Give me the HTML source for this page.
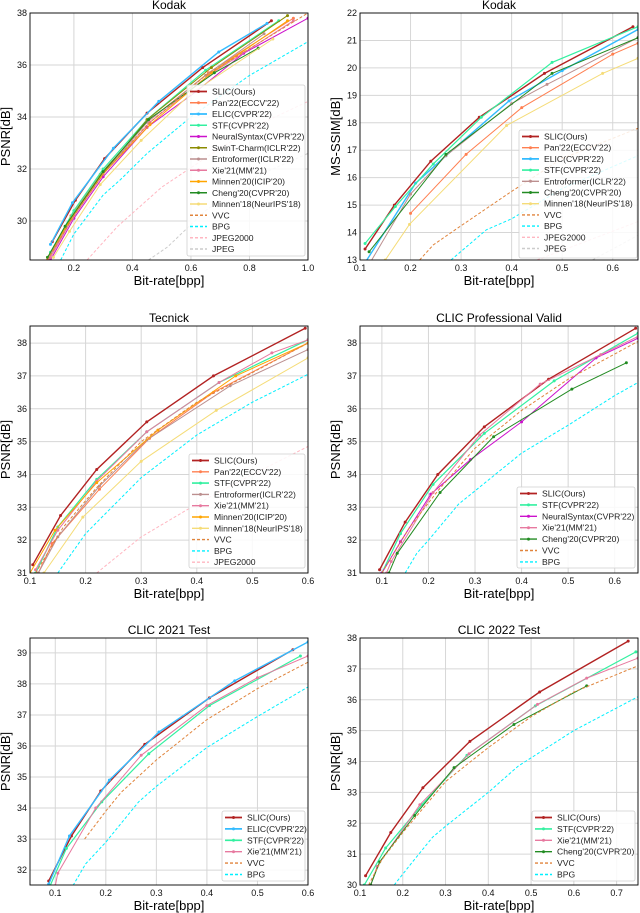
<!DOCTYPE html>
<html><head><meta charset="utf-8">
<style>
html,body{margin:0;padding:0;background:#fff;}
svg{display:block;font-family:"Liberation Sans","DejaVu Sans",sans-serif;}
</style></head>
<body>
<svg id="fig" width="640" height="913" viewBox="0 0 640 913" xmlns="http://www.w3.org/2000/svg"></svg>
<script>
// ---------- Kodak PSNR ----------
const kodakPsnr_SLIC=[[0.126,29.2],[0.205,30.8],[0.305,32.4],[0.45,34.15],[0.64,35.9],[0.875,37.7]];
const kodakPsnr_Pan=[[0.11,28.5],[0.19,30.2],[0.29,31.8],[0.45,33.8],[0.66,35.7],[0.95,37.8]];
const kodakPsnr_ELIC=[[0.12,29.1],[0.195,30.7],[0.335,32.8],[0.49,34.6],[0.695,36.5],[0.86,37.6]];
const kodakPsnr_STF=[[0.12,28.8],[0.2,30.4],[0.3,32.0],[0.45,33.9],[0.65,35.8],[0.9,37.7]];
const kodakPsnr_NS=[[0.12,28.5],[0.2,30.1],[0.3,31.7],[0.45,33.6],[0.62,35.0],[0.78,36.45],[1.0,37.8]];
const kodakPsnr_Swin=[[0.11,28.6],[0.18,29.9],[0.29,31.7],[0.45,33.9],[0.67,35.9],[0.93,37.9]];
const kodakPsnr_Entro=[[0.115,28.6],[0.195,30.1],[0.3,31.8],[0.45,33.8],[0.65,35.6],[0.85,37.2]];
const kodakPsnr_Xie=[[0.12,28.6],[0.2,30.2],[0.3,31.8],[0.46,33.8],[0.66,35.6],[0.95,37.7]];
const kodakPsnr_M20=[[0.11,28.6],[0.19,30.1],[0.29,31.7],[0.46,33.7],[0.67,35.7],[0.93,37.7]];
const kodakPsnr_Cheng=[[0.11,28.6],[0.17,29.8],[0.3,31.9],[0.455,33.9],[0.68,35.7],[0.83,36.65]];
const kodakPsnr_M18=[[0.13,28.6],[0.185,29.6],[0.29,31.4],[0.43,33.1],[0.6,34.9],[0.88,37.0]];
const kodakPsnr_VVC=[[0.11,28.5],[0.2,30.2],[0.3,31.8],[0.45,33.7],[0.65,35.6],[1.0,38.0]];
const kodakPsnr_BPG=[[0.155,28.5],[0.2,29.5],[0.3,31.0],[0.36,31.6],[0.45,32.6],[0.6,34.0],[0.8,35.6],[1.0,36.9]];
const kodakPsnr_J2K=[[0.245,28.5],[0.35,29.8],[0.5,31.3],[0.7,32.8],[0.85,33.8],[1.0,34.6]];
const kodakPsnr_JPEG=[[0.455,28.5],[0.52,29.0],[0.65,30.4],[0.8,31.6],[1.0,32.6]];
// ---------- Kodak MS-SSIM ----------
const kodakSsim_SLIC=[[0.11,13.4],[0.168,15.0],[0.24,16.6],[0.336,18.2],[0.465,19.8],[0.64,21.5]];
const kodakSsim_Pan=[[0.2,14.7],[0.31,16.85],[0.42,18.55],[0.6,20.5],[0.65,20.9]];
const kodakSsim_ELIC=[[0.11,12.9],[0.21,15.8],[0.27,16.8],[0.395,18.8],[0.5,19.9],[0.65,21.4]];
const kodakSsim_STF=[[0.11,13.6],[0.17,14.95],[0.245,16.5],[0.34,18.2],[0.48,20.2],[0.65,21.5]];
const kodakSsim_Entro=[[0.12,12.9],[0.2,15.4],[0.27,16.8],[0.4,18.7],[0.47,19.4],[0.65,21.1]];
const kodakSsim_Cheng=[[0.118,13.3],[0.27,16.85],[0.48,19.8],[0.65,21.1]];
const kodakSsim_M18=[[0.15,13.0],[0.198,14.3],[0.39,17.9],[0.58,19.8],[0.65,20.35]];
const kodakSsim_VVC=[[0.218,13.0],[0.245,13.55],[0.3,14.25],[0.4,15.5],[0.5,16.7],[0.65,17.8]];
const kodakSsim_BPG=[[0.28,13.0],[0.35,14.1],[0.4,14.5],[0.5,15.6],[0.65,16.8]];
const kodakSsim_J2K=[[0.45,13.0],[0.55,13.7],[0.65,14.4]];
const kodakSsim_JPEG=[[0.56,13.0],[0.65,13.9]];
// ---------- Tecnick ----------
const tec_SLIC=[[0.105,31.25],[0.155,32.75],[0.22,34.15],[0.31,35.6],[0.43,37.0],[0.595,38.45]];
const tec_Pan=[[0.115,31.0],[0.14,31.9],[0.225,33.55],[0.315,35.1],[0.43,36.5],[0.6,38.0]];
const tec_STF=[[0.11,31.0],[0.15,32.4],[0.22,33.85],[0.31,35.3],[0.44,36.8],[0.6,38.1]];
const tec_Entro=[[0.115,31.0],[0.15,32.1],[0.225,33.65],[0.31,35.05],[0.46,36.7],[0.6,37.8]];
const tec_Xie=[[0.11,31.1],[0.15,32.3],[0.22,33.8],[0.31,35.3],[0.44,36.8],[0.535,37.7],[0.6,38.1]];
const tec_M20=[[0.1,31.0],[0.145,32.3],[0.22,33.75],[0.33,35.35],[0.47,37.0],[0.6,38.0]];
const tec_M18=[[0.125,31.0],[0.195,32.7],[0.3,34.4],[0.435,35.95],[0.6,37.55]];
const tec_VVC=[[0.11,31.0],[0.16,32.4],[0.22,33.6],[0.3,35.0],[0.4,36.2],[0.5,37.1],[0.6,38.0]];
const tec_BPG=[[0.15,31.0],[0.2,32.2],[0.3,33.9],[0.4,35.2],[0.5,36.2],[0.6,37.05]];
const tec_J2K=[[0.22,31.0],[0.3,32.1],[0.4,33.1],[0.5,34.0],[0.6,34.85]];
// ---------- CLIC Professional Valid ----------
const pro_SLIC=[[0.095,31.1],[0.15,32.55],[0.22,34.0],[0.32,35.45],[0.458,36.9],[0.645,38.45]];
const pro_STF=[[0.1,31.0],[0.14,32.2],[0.21,33.7],[0.32,35.25],[0.47,36.85],[0.65,38.3]];
const pro_NS=[[0.1,31.0],[0.14,31.95],[0.205,33.4],[0.29,34.45],[0.4,35.6],[0.56,37.55],[0.65,38.15]];
const pro_Xie=[[0.11,31.0],[0.12,31.35],[0.21,33.45],[0.31,35.2],[0.44,36.75],[0.57,37.65],[0.65,38.2]];
const pro_Cheng=[[0.115,31.0],[0.133,31.6],[0.225,33.45],[0.34,35.15],[0.508,36.6],[0.625,37.4]];
const pro_VVC=[[0.1,31.0],[0.16,32.4],[0.22,33.5],[0.3,34.8],[0.4,35.95],[0.5,36.9],[0.65,38.05]];
const pro_BPG=[[0.15,31.0],[0.175,31.6],[0.2,32.0],[0.265,33.1],[0.3,33.5],[0.4,34.65],[0.5,35.5],[0.6,36.4],[0.65,36.8]];
// ---------- CLIC 2021 ----------
const c21_SLIC=[[0.087,31.65],[0.132,33.1],[0.19,34.55],[0.277,36.05],[0.405,37.55],[0.57,39.1]];
const c21_ELIC=[[0.087,31.55],[0.128,33.1],[0.207,34.9],[0.305,36.45],[0.455,38.1],[0.6,39.35]];
const c21_STF=[[0.09,31.5],[0.122,32.7],[0.192,34.2],[0.285,35.75],[0.405,37.3],[0.585,38.9]];
const c21_Xie=[[0.1,31.5],[0.105,31.9],[0.18,34.0],[0.27,35.7],[0.4,37.3],[0.5,38.2],[0.6,38.9]];
const c21_VVC=[[0.158,33.0],[0.2,33.9],[0.23,34.5],[0.3,35.55],[0.4,36.85],[0.5,37.85],[0.6,38.7]];
const c21_BPG=[[0.135,31.5],[0.16,32.2],[0.2,32.9],[0.265,34.2],[0.3,34.7],[0.4,35.95],[0.46,36.55],[0.5,36.95],[0.6,37.9]];
// ---------- CLIC 2022 ----------
const c22_SLIC=[[0.113,30.3],[0.172,31.7],[0.247,33.15],[0.357,34.65],[0.52,36.25],[0.727,37.9]];
const c22_STF=[[0.11,30.0],[0.16,31.2],[0.245,32.6],[0.35,34.2],[0.51,35.8],[0.745,37.55]];
const c22_Xie=[[0.125,30.0],[0.14,30.6],[0.24,32.6],[0.355,34.25],[0.515,35.85],[0.63,36.7],[0.75,37.35]];
const c22_Cheng=[[0.125,30.0],[0.146,30.75],[0.228,32.25],[0.32,33.8],[0.46,35.2],[0.63,36.45]];
const c22_VVC=[[0.12,30.0],[0.15,30.8],[0.2,31.7],[0.3,33.35],[0.4,34.45],[0.5,35.45],[0.6,36.25],[0.75,37.1]];
const c22_BPG=[[0.18,30.0],[0.22,30.7],[0.27,31.55],[0.3,31.9],[0.4,33.0],[0.47,33.85],[0.6,35.0],[0.75,36.1]];
// tick labels
const ticksX_kodakPsnr=[0.2,0.4,0.6,0.8,1.0];
const ticksY_kodakPsnr=[30,32,34,36,38];
const ticksX_kodakSsim=[0.1,0.2,0.3,0.4,0.5,0.6];
const ticksY_kodakSsim=[13,14,15,16,17,18,19,20,21,22];
const ticksX_tec=[0.1,0.2,0.3,0.4,0.5,0.6];
const ticksY_tec=[31,32,33,34,35,36,37,38];
const ticksX_pro=[0.1,0.2,0.3,0.4,0.5,0.6];
const ticksY_pro=[31,32,33,34,35,36,37,38];
const ticksX_c21=[0.1,0.2,0.3,0.4,0.5,0.6];
const ticksY_c21=[32,33,34,35,36,37,38,39];
const ticksX_c22=[0.1,0.2,0.3,0.4,0.5,0.6,0.7];
const ticksY_c22=[30,31,32,33,34,35,36,37,38];

const STY={
 SLIC:{n:'SLIC(Ours)',c:'#b22222',w:1.4,m:1},
 Pan:{n:"Pan'22(ECCV'22)",c:'#ff7f50',w:1,m:1},
 ELIC:{n:"ELIC(CVPR'22)",c:'#33bbff',w:1.4,m:1},
 STF:{n:"STF(CVPR'22)",c:'#33f0a0',w:1.2,m:1},
 NS:{n:"NeuralSyntax(CVPR'22)",c:'#cc11cc',w:1,m:1},
 Swin:{n:"SwinT-Charm(ICLR'22)",c:'#8b8b00',w:1,m:1},
 Entro:{n:"Entroformer(ICLR'22)",c:'#bc8f8f',w:1,m:1},
 Xie:{n:"Xie'21(MM'21)",c:'#e7799f',w:1,m:1},
 M20:{n:"Minnen'20(ICIP'20)",c:'#ffa500',w:1,m:1},
 Cheng:{n:"Cheng'20(CVPR'20)",c:'#228b22',w:1,m:1},
 M18:{n:"Minnen'18(NeurIPS'18)",c:'#f5dc78',w:1,m:1},
 VVC:{n:'VVC',c:'#e0843c',w:1,d:'3,2'},
 BPG:{n:'BPG',c:'#00f0ff',w:1,d:'3,2'},
 J2K:{n:'JPEG2000',c:'#ffb6c1',w:1,d:'3,2'},
 JPEG:{n:'JPEG',c:'#cccccc',w:1,d:'3,2'}
};
const svg=document.getElementById('fig');
const NS='http://www.w3.org/2000/svg';
function mk(tag,attrs,parent,txt){const e=document.createElementNS(NS,tag);for(const k in attrs)e.setAttribute(k,attrs[k]);if(txt!==undefined)e.textContent=txt;(parent||svg).appendChild(e);return e;}

function panel(id,L,R,T,B,xd,yd,xt,yt,title,ylab,series,leg,dec){
 const g=mk('g',{});
 
 
 const sx=v=>L+(v-xd[0])/(xd[1]-xd[0])*(R-L);
 const sy=v=>B-(v-yd[0])/(yd[1]-yd[0])*(B-T);
 const cp=mk('clipPath',{id:'cp-'+id},g);mk('rect',{x:L,y:T,width:R-L,height:B-T},cp);
 xt.forEach(v=>{const gl=mk('line',{x1:sx(v),x2:sx(v),y1:T,y2:B,stroke:'#d6d6d6','stroke-width':1},g);
  
  const t=mk('text',{x:sx(v),y:B+11,'font-size':9,'text-anchor':'middle',fill:'#111'},g,v.toFixed(1));
  });
 yt.forEach(v=>{const gl=mk('line',{x1:L,x2:R,y1:sy(v),y2:sy(v),stroke:'#d6d6d6','stroke-width':1},g);
  
  const t=mk('text',{x:L-3,y:sy(v)+3,'font-size':9,'text-anchor':'end',fill:'#111'},g,String(v));
  });
 const sg=mk('g',{'clip-path':'url(#cp-'+id+')'},g);
 series.forEach(([key,data])=>{const s=STY[key];
  const pts=data.map(p=>sx(p[0]).toFixed(1)+','+sy(p[1]).toFixed(1)).join(' ');
  const pl=mk('polyline',{points:pts,fill:'none',stroke:s.c,'stroke-width':s.w,'stroke-dasharray':s.d||'none'},sg);
  
  if(s.m)data.forEach(p=>{const c=mk('circle',{cx:sx(p[0]),cy:sy(p[1]),r:1.5,fill:s.c},sg);
   });
 });
 const fr=mk('rect',{x:L,y:T,width:R-L,height:B-T,fill:'none',stroke:'#000','stroke-width':0.9},g);
 
 const tt=mk('text',{x:(L+R)/2,y:T-4,'font-size':12,'text-anchor':'middle',fill:'#000'},g,title);
 
 const xl=mk('text',{x:(L+R)/2,y:B+25,'font-size':13,'text-anchor':'middle',fill:'#000'},g,'Bit-rate[bpp]');
 
 const yc=(T+B)/2,yx=L-(dec?23:20);
 const yl=mk('text',{x:yx,y:yc,'font-size':13,'text-anchor':'middle',fill:'#000',transform:'rotate(-90 '+yx+' '+yc+')'},g,ylab);
 
 // legend
 const [lx,ly,lw,lh,sp]=leg;
 const lg=mk('g',{},g);
 
 mk('rect',{x:lx,y:ly,width:lw,height:lh,fill:'#fff','fill-opacity':0.85,stroke:'#d0d0d0','stroke-width':0.8,rx:2},lg);
 series.forEach(([key],i)=>{const s=STY[key];const y=ly+6.5+i*sp;
  const e=mk('g',{},lg);
  
  mk('line',{x1:lx+3,x2:lx+20,y1:y,y2:y,stroke:s.c,'stroke-width':s.w+0.4,'stroke-dasharray':s.d||'none'},e);
  if(s.m)mk('circle',{cx:lx+11.5,cy:y,r:1.5,fill:s.c},e);
  mk('text',{x:lx+25,y:y+3,'font-size':8.6,fill:'#222'},e,s.n);
 });
}

panel('kodak-psnr',30,308,13,260,[0.05,1.0],[28.5,38],ticksX_kodakPsnr,ticksY_kodakPsnr,'Kodak','PSNR[dB]',
 [['SLIC',kodakPsnr_SLIC],['Pan',kodakPsnr_Pan],['ELIC',kodakPsnr_ELIC],['STF',kodakPsnr_STF],['NS',kodakPsnr_NS],['Swin',kodakPsnr_Swin],['Entro',kodakPsnr_Entro],['Xie',kodakPsnr_Xie],['M20',kodakPsnr_M20],['Cheng',kodakPsnr_Cheng],['M18',kodakPsnr_M18],['VVC',kodakPsnr_VVC],['BPG',kodakPsnr_BPG],['J2K',kodakPsnr_J2K],['JPEG',kodakPsnr_JPEG]],
 [187,85,118,171,11.25]);
panel('kodak-msssim',360,638,13,260,[0.1,0.65],[13,22],ticksX_kodakSsim,ticksY_kodakSsim,'Kodak','MS-SSIM[dB]',
 [['SLIC',kodakSsim_SLIC],['Pan',kodakSsim_Pan],['ELIC',kodakSsim_ELIC],['STF',kodakSsim_STF],['Entro',kodakSsim_Entro],['Cheng',kodakSsim_Cheng],['M18',kodakSsim_M18],['VVC',kodakSsim_VVC],['BPG',kodakSsim_BPG],['J2K',kodakSsim_J2K],['JPEG',kodakSsim_JPEG]],
 [519,130,118,128,11.2]);
panel('tecnick',30,308,326,573,[0.1,0.6],[31,38.52],ticksX_tec,ticksY_tec,'Tecnick','PSNR[dB]',
 [['SLIC',tec_SLIC],['Pan',tec_Pan],['STF',tec_STF],['Entro',tec_Entro],['Xie',tec_Xie],['M20',tec_M20],['M18',tec_M18],['VVC',tec_VVC],['BPG',tec_BPG],['J2K',tec_J2K]],
 [189,454,116,114,11.3]);
panel('clic-pro',360,638,326,573,[0.053,0.65],[31,38.52],ticksX_pro,ticksY_pro,'CLIC Professional Valid','PSNR[dB]',
 [['SLIC',pro_SLIC],['STF',pro_STF],['NS',pro_NS],['Xie',pro_Xie],['Cheng',pro_Cheng],['VVC',pro_VVC],['BPG',pro_BPG]],
 [517,487,118,81,11.4]);
panel('clic-2021',30,308,638,885,[0.05,0.6],[31.52,39.48],ticksX_c21,ticksY_c21,'CLIC 2021 Test','PSNR[dB]',
 [['SLIC',c21_SLIC],['ELIC',c21_ELIC],['STF',c21_STF],['Xie',c21_Xie],['VVC',c21_VVC],['BPG',c21_BPG]],
 [222,811,83,70,11.4]);
panel('clic-2022',360,638,638,885,[0.1,0.75],[30,38],ticksX_c22,ticksY_c22,'CLIC 2022 Test','PSNR[dB]',
 [['SLIC',c22_SLIC],['STF',c22_STF],['Xie',c22_Xie],['Cheng',c22_Cheng],['VVC',c22_VVC],['BPG',c22_BPG]],
 [532,811,103,70,11.4]);
</script>
</body></html>
